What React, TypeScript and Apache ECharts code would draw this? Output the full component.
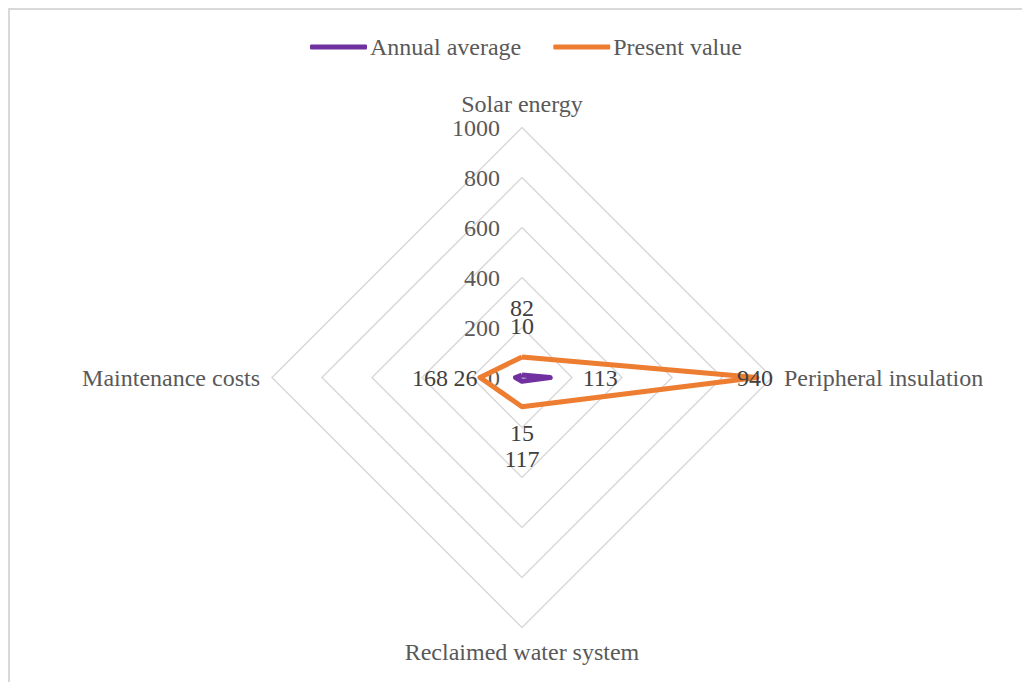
import React, { useEffect, useRef } from "react";
import * as echarts from "echarts";

// order: top, then counter-clockwise (left, bottom, right) so the picture reads clockwise from the top
const indicators = ["Solar energy", "Maintenance costs", "Reclaimed water system", "Peripheral insulation"];
const seriesNames = ["Annual average", "Present value"];
const annualAverage = [10, 26, 15, 113];
const presentValue = [82, 168, 117, 940];
const axisMax = 1000;
const axisSplits = 5;

const COLORS = ["#7030A0", "#ED7D31"];
const FONT = "Liberation Serif";
const FS = 24;

export default function App() {
  const ref = useRef<HTMLDivElement>(null);
  useEffect(() => {
    if (!ref.current) return;
    const chart = echarts.init(ref.current, undefined, { renderer: "svg" });
    const allValues = [annualAverage, presentValue];
    // label offsets (outward from each vertex): top, left, bottom, right
    const outward = [
      [0, -49],
      [-50, 0],
      [0, 52],
      [50, 0],
    ];
    const labelItems: any[] = [];
    allValues.forEach((vals, s) => {
      vals.forEach((v, k) => {
        let off = outward[k];
        if (s === 1 && k === 3) off = [-2, 0];
        labelItems.push({
          value: vals,
          name: "lbl" + s + k,
          label: {
            show: true,
            position: "inside",
            offset: off,
            color: "#404040",
            fontFamily: FONT,
            fontSize: FS,
            formatter: (p: any) => (p.value === v ? String(v) : ""),
          },
        });
      });
    });

    chart.setOption({
      animation: false,
      legend: {
        data: seriesNames,
        top: 30,
        left: 305,
        itemWidth: 57,
        itemHeight: 5,
        itemGap: 32,
        icon: "roundRect",
        textStyle: { fontFamily: FONT, fontSize: FS, color: "#595959", padding: [0, 0, 0, -2] },
      },
      radar: {
        center: [522, 377.5],
        radius: 250,
        startAngle: 90,
        shape: "polygon",
        splitNumber: axisSplits,
        nameGap: 12,
        axisName: { color: "#595959", fontFamily: FONT, fontSize: FS },
        axisLine: { show: false },
        axisTick: { show: false },
        splitArea: { show: false },
        splitLine: { lineStyle: { color: "#D9D9D9", width: 1.5 } },
        axisLabel: { show: false },
        indicator: indicators.map((name, i) => ({
          name,
          min: 0,
          max: axisMax,
          ...(i === 0
            ? {
                axisLabel: {
                  show: true,
                  margin: 22,
                  color: "#595959",
                  fontFamily: FONT,
                  fontSize: FS,
                  formatter: (v: number) => String(v),
                },
              }
            : {}),
        })),
      },
      series: [
        {
          type: "radar",
          symbol: "none",
          data: seriesNames.map((n, i) => ({
            name: n,
            value: allValues[i],
            lineStyle: { color: COLORS[i], width: 5, join: "round" },
            itemStyle: { color: COLORS[i] },
          })),
          z: 3,
        },
        {
          type: "radar",
          symbol: "circle",
          symbolSize: 1,
          silent: true,
          lineStyle: { opacity: 0 },
          itemStyle: { color: "rgba(0,0,0,0)" },
          data: labelItems,
          z: 5,
        },
      ],
    });
    return () => chart.dispose();
  }, []);

  return (
    <div style={{ position: "fixed", left: 0, top: 0, width: 1022, height: 682, overflow: "hidden", background: "#fff" }}>
      <div
        style={{
          position: "absolute",
          left: 8,
          top: 8,
          width: 1100,
          height: 800,
          border: "2px solid #D9D9D9",
          boxSizing: "border-box",
        }}
      />
      <div ref={ref} style={{ position: "absolute", left: 0, top: 0, width: 1022, height: 682 }} />
    </div>
  );
}
